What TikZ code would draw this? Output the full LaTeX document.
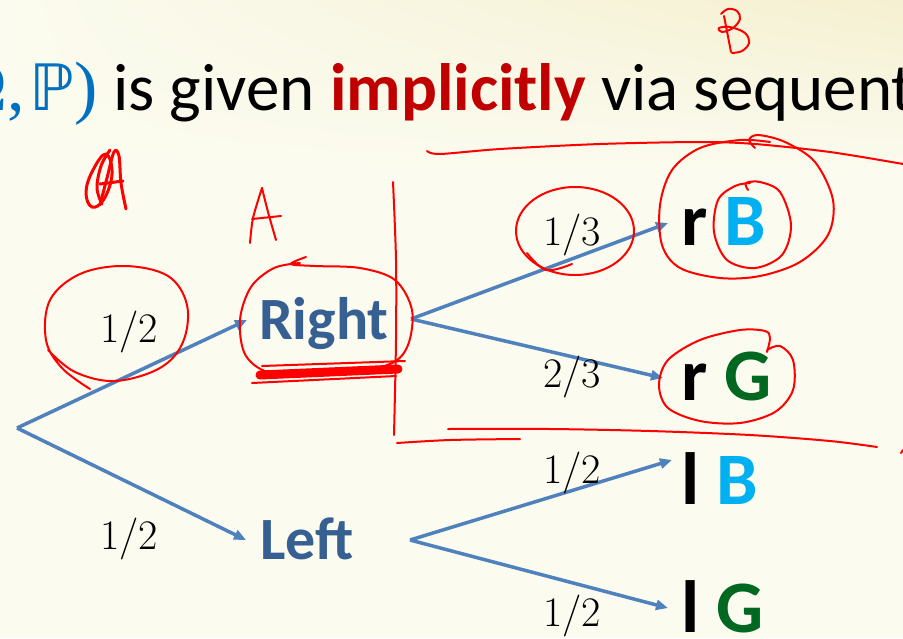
\documentclass[tikz,border=0pt]{standalone}
\usepackage{fontspec}
\usetikzlibrary{arrows.meta,calc,shadings}
\newfontfamily\calibri{Carlito}
\newfontfamily\djv{DejaVu Sans}
\newfontfamily\tnr{Liberation Serif}
\definecolor{bg}{RGB}{251,251,239}
\definecolor{bgy}{RGB}{245,240,208}
\definecolor{arrowblue}{RGB}{79,129,189}
\definecolor{nodeblue}{RGB}{55,96,146}
\definecolor{leafcyan}{RGB}{0,176,240}
\definecolor{leafgreen}{RGB}{0,104,32}
\definecolor{titlered}{RGB}{192,0,0}
\definecolor{titleblue}{RGB}{0,112,192}
\definecolor{ink}{RGB}{255,0,0}
\begin{document}
\begin{tikzpicture}[x=1pt,y=-1pt,
  arr/.style={draw=arrowblue, line width=3.5pt, -{Triangle[length=12pt,width=10pt]}},
  prob/.style={font=\fontsize{42}{50}\selectfont, anchor=base, inner sep=0pt},
  mid/.style={font=\calibri\bfseries\fontsize{60}{66}\selectfont, text=nodeblue, anchor=base west, inner ysep=0pt, inner xsep=12pt},
  leaf/.style={font=\calibri\bfseries\fontsize{74}{80}\selectfont, anchor=base west, inner ysep=0pt, inner xsep=13pt},
  pen/.style={draw=ink, line width=2pt, line cap=round, line join=round},
  scrib/.style={draw=ink, line width=3pt, line cap=round, line join=round},
  ]
\useasboundingbox (0,0) rectangle (903,638);
\clip (0,0) rectangle (903,638);
% background
\fill[bg] (0,0) rectangle (903,638);
\shade[upper left=bg, upper right=bgy, lower left=bg, lower right=bg] (0,0) rectangle (903,170);

% title
\node[anchor=base west, inner sep=0pt, font=\calibri\fontsize{67}{74}\selectfont] (title) at (113,110)
  {is given \textcolor{titlered}{\bfseries implicitly} via sequential};
\node[anchor=base east, inner sep=0pt, text=titleblue, font=\tnr\fontsize{70}{76}\selectfont] (omega) at (98,110)
  {(Ω,\kern5pt{\djv\fontsize{64}{70}\selectfont ℙ})};

% tree nodes
\coordinate (root) at (17,428);
\node[mid] (Right) at (247,339) {Right};
\node[mid] (Left) at (248,559) {Left};
\coordinate (Rfork) at (411,319);
\coordinate (Lfork) at (410,540);
\node[leaf] (rB) at (668,245) {r \textcolor{leafcyan}{B}};
\node[leaf] (rG) at (668,400) {r \textcolor{leafgreen}{G}};
\node[leaf] (lB) at (668,504) {l \textcolor{leafcyan}{B}};
\node[leaf] (lG) at (668,632) {l \textcolor{leafgreen}{G}};

% connectors
\draw[arr] (root) -- ($(Right.base west)+(0,-19)$);
\draw[arr] (root) -- ($(Left.base west)+(-2,-19)$);
\draw[arr] (Rfork) -- ($(rB.base west)+(0,-22)$);
\draw[arr] (Rfork) -- ($(rG.base west)+(-5,-22)$);
\draw[arr] (Lfork) -- ($(lB.base west)+(4,-44)$);
\draw[arr] (Lfork) -- ($(lG.base west)+(0,-24)$);

% probabilities
\node[prob] (p1) at (129,342) {1/2};
\node[prob] (p2) at (129,549) {1/2};
\node[prob] (p3) at (572,245) {1/3};
\node[prob] (p4) at (572,387) {2/3};
\node[prob] (p5) at (572,483) {1/2};
\node[prob] (p6) at (572,626) {1/2};

% ---- red handwriting ----
% B at top
\draw[pen] plot[smooth, tension=0.6] coordinates {(721,14) (728,9) (737,11) (740,19) (733,28) (722,32) (719,28) (730,27) (745,33) (749,43) (742,51) (732,53)};
\draw[pen] (724,16) -- (731,52);
% scribbled A
\draw[scrib] plot[smooth cycle, tension=0.7] coordinates {(106,154) (93,170) (86,192) (92,207) (104,199) (112,174)};
\draw[scrib] plot[smooth, tension=0.6] coordinates {(100,205) (107,178) (114,152) (119,156) (121,183) (126,209)};
\draw[scrib] plot[smooth, tension=0.6] coordinates {(110,150) (101,166) (97,188) (102,204)};
\draw[scrib] (100,184) -- (123,181);
% A
\draw[pen] plot[smooth, tension=0.5] coordinates {(250,243) (253,218) (262,188)};
\draw[pen] plot[smooth, tension=0.5] coordinates {(262,188) (268,212) (276,240)};
\draw[pen] (252,219) -- (281,216);
% circle around 1/2
\draw[pen] plot[smooth, tension=0.6] coordinates {(90,389) (62,368) (46,340) (50,300) (80,274) (125,266) (168,276) (187,305) (183,342) (160,368) (115,381) (75,372) (48,350)};
% circle around Right
\draw[pen] plot[smooth, tension=0.55] coordinates {(306,257) (291,264) (315,266) (360,268) (395,280) (412,310) (408,345) (390,364) (340,374) (275,374) (246,356) (240,320) (251,287) (274,268) (300,263)};
\draw[draw=ink, line width=9pt, line cap=round] (260,375) -- (398,369);
\draw[pen] (252,383) -- (396,376);
\draw[pen] (262,366) -- (405,361);
% vertical divider
\draw[pen] plot[smooth, tension=0.5] coordinates {(393,182) (396,260) (396,340) (394,435)};
% top horizontal line
\draw[pen] plot[smooth, tension=0.5] coordinates {(427,151) (440,154) (500,149) (600,144) (700,142) (755,144) (830,152) (903,164)};
% circle around 1/3
\draw[pen] (575,231) ellipse [x radius=59, y radius=44];
\draw[pen] plot[smooth, tension=0.6] coordinates {(527,253) (546,270) (572,264)};
% big circle around r B
\draw[pen] plot[smooth, tension=0.55] coordinates {(755,148) (749,140) (758,135) (785,142) (815,162) (833,200) (828,235) (800,262) (760,276) (720,278) (680,268) (662,245) (660,205) (672,170) (700,148) (740,140) (770,142)};
% small circle around B
\draw[pen] plot[smooth, tension=0.55] coordinates {(748,190) (746,183) (760,182) (780,192) (791,225) (782,255) (755,268) (727,260) (714,232) (718,200) (735,186) (750,183)};
% circle around r G
\draw[pen] plot[smooth, tension=0.55] coordinates {(767,352) (770,338) (765,331) (740,330) (700,340) (668,360) (659,385) (668,408) (700,421) (740,423) (775,412) (793,390) (793,360) (780,346) (767,350)};
% bottom lines
\draw[pen] plot[smooth, tension=0.5] coordinates {(448,429) (550,429) (650,431) (750,435) (830,441) (877,447)};
\draw[pen] plot[smooth, tension=0.5] coordinates {(397,443) (450,440) (520,439)};
\draw[pen] (901,453) -- (903,450);
\end{tikzpicture}
\end{document}
